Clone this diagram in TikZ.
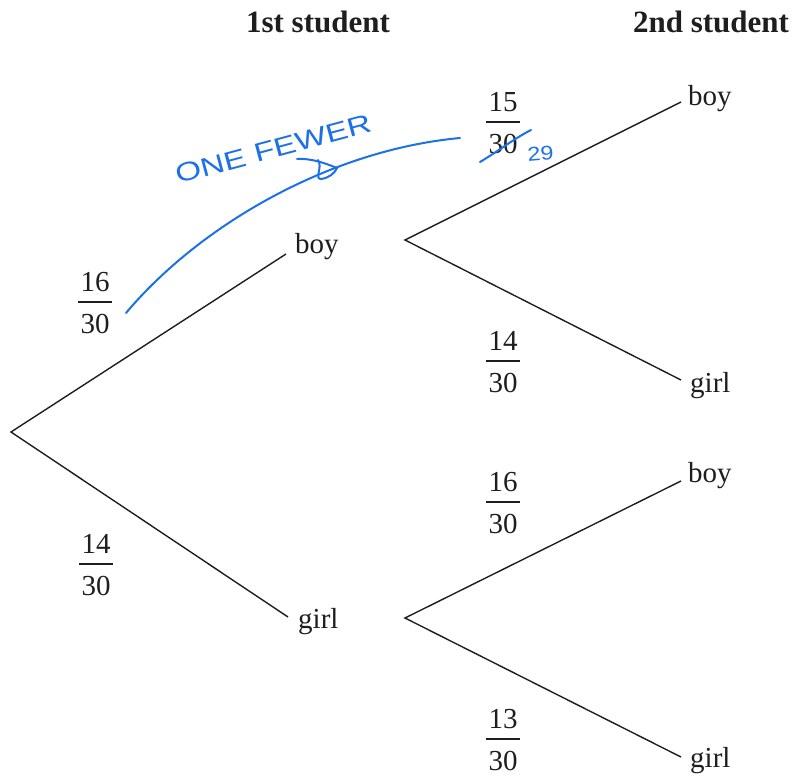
\documentclass[tikz,border=0pt]{standalone}
\usepackage{fontspec}
\setmainfont{Liberation Serif}
\newfontfamily\handfont{Liberation Sans}
\definecolor{pen}{RGB}{28,112,232}
\definecolor{ink}{RGB}{30,30,30}
\tikzset{
  lab/.style={inner sep=0pt, text=ink, font=\fontsize{29}{34}\selectfont},
  head/.style={inner sep=0pt, text=ink, font=\fontsize{31}{36}\selectfont\bfseries},
  branch/.style={line width=1.4pt, draw=ink},
  fracbar/.style={line width=1.3pt, draw=ink},
  penline/.style={draw=pen, line width=2pt, line cap=round, line join=round},
  hand/.style={inner sep=0pt, text=pen, font=\handfont\fontsize{18}{22}\selectfont},
}
\newcommand\fracat[5]{%
  \node[lab, anchor=base] (#1n) at (#2,#3-11) {#4};
  \node[lab, anchor=base] (#1d) at (#2,#3+31) {#5};
  \draw[fracbar] (#2-17,#3) -- (#2+17,#3);
}
\begin{document}
\begin{tikzpicture}[x=1pt,y=-1pt]
\useasboundingbox (0,0) rectangle (792,776);

% headers
\node[head, anchor=base] (h1) at (318,33) {1st student};
\node[head, anchor=base] (h2) at (711,33) {2nd student};

% branch points
\coordinate (r)  at (11,432);
\coordinate (r1) at (286,254);
\coordinate (r2) at (288,617);
\coordinate (f1) at (405,240);
\coordinate (f1a) at (681,102);
\coordinate (f1b) at (681,380);
\coordinate (f2) at (405,618);
\coordinate (f2a) at (681,481);
\coordinate (f2b) at (681,757);

% labels
\node[lab, anchor=base west] (b1) at (295,253) {boy};
\node[lab, anchor=base west] (g1) at (298,628) {girl};
\node[lab, anchor=base west] (bb) at (688,105) {boy};
\node[lab, anchor=base west] (bg) at (690,392) {girl};
\node[lab, anchor=base west] (gb) at (688,482) {boy};
\node[lab, anchor=base west] (gg) at (690,767) {girl};

% branches
\draw[branch] (r1) -- (r) -- (r2);
\draw[branch] (f1a) -- (f1) -- (f1b);
\draw[branch] (f2a) -- (f2) -- (f2b);

% fractions
\fracat{pa}{95}{302}{16}{30}
\fracat{pb}{96}{564}{14}{30}
\fracat{pc}{503}{122}{15}{30}
\fracat{pd}{503}{361}{14}{30}
\fracat{pe}{503}{502}{16}{30}
\fracat{pf}{503}{739}{13}{30}

% handwritten annotation
\coordinate (cs) at (126,313);
\coordinate (ce) at (460,138);
\draw[penline] (cs) .. controls (200,225) and (330,150) .. (ce);
\draw[penline] (297,159) .. controls (310,158) and (325,163) .. (337,168);
\draw[penline] (318,160) .. controls (323,167) and (314,179) .. (321,179)
               .. controls (329,178) and (335,173) .. (337,168);
\node[hand, anchor=base west, rotate=15] (note) at (178,184) {\scalebox{1.85}[1.45]{ONE FEWER}};
\draw[penline] (480,162) .. controls (500,150) and (515,138) .. (531,130);
\node[hand, anchor=base west, rotate=5] (n29) at (528,162) {\scalebox{1.3}[1.1]{29}};
\end{tikzpicture}
\end{document}
